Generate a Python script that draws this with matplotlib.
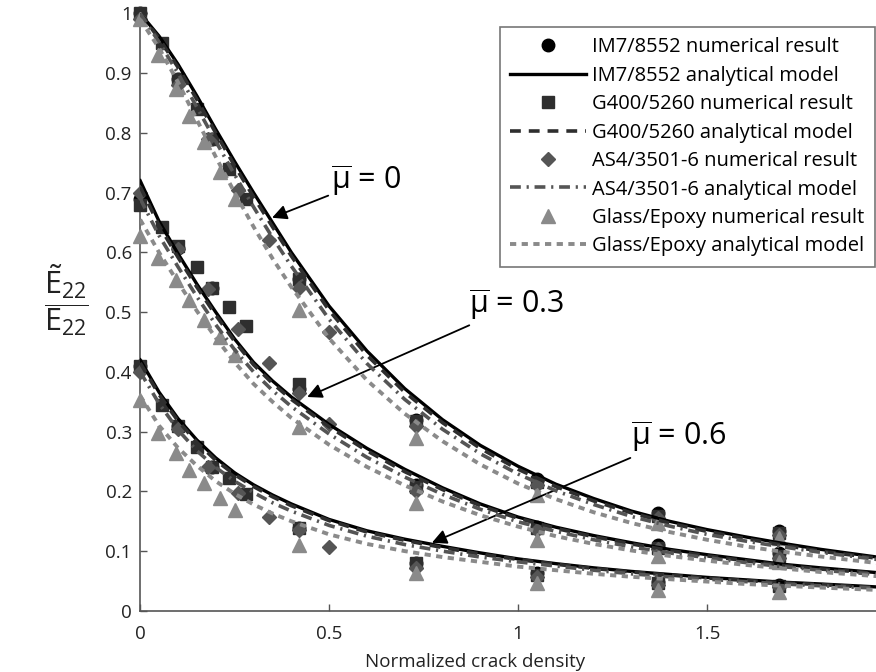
import numpy as np
import matplotlib
matplotlib.use("Agg")
import matplotlib.pyplot as plt

plt.rcParams['font.family'] = ['Open Sans', 'DejaVu Sans']
plt.rcParams['mathtext.fontset'] = 'custom'
plt.rcParams['mathtext.rm'] = 'Open Sans'
plt.rcParams['mathtext.it'] = 'Open Sans'

# analytical model curves
xa = [0, 0.05, 0.1, 0.15, 0.2, 0.25, 0.3, 0.35, 0.4, 0.5, 0.6, 0.7, 0.8, 0.9,
      1.0, 1.1, 1.2, 1.3, 1.4, 1.5, 1.6, 1.7, 1.8, 1.95]

im7_mu0 = [1.0, 0.962, 0.915, 0.862, 0.806, 0.752, 0.70, 0.65, 0.60, 0.51, 0.435, 0.372,
           0.32, 0.277, 0.242, 0.212, 0.188, 0.167, 0.15, 0.136, 0.124, 0.113, 0.103, 0.09]
im7_mu3 = [0.72, 0.652, 0.598, 0.547, 0.50, 0.455, 0.416, 0.385, 0.358, 0.312, 0.272, 0.237,
           0.206, 0.179, 0.157, 0.14, 0.126, 0.114, 0.103, 0.094, 0.086, 0.078, 0.072, 0.064]
im7_mu6 = [0.42, 0.366, 0.322, 0.286, 0.256, 0.231, 0.211, 0.194, 0.179, 0.153, 0.134, 0.12,
           0.108, 0.097, 0.087, 0.079, 0.072, 0.066, 0.061, 0.056, 0.052, 0.048, 0.045, 0.04]

g400_mu0 = [1.0, 0.958, 0.91, 0.856, 0.80, 0.745, 0.693, 0.643, 0.594, 0.503, 0.428, 0.366,
            0.315, 0.272, 0.237, 0.208, 0.184, 0.164, 0.147, 0.133, 0.121, 0.11, 0.1, 0.088]
g400_mu3 = [0.71, 0.645, 0.592, 0.542, 0.495, 0.451, 0.412, 0.381, 0.354, 0.308, 0.268, 0.233,
            0.203, 0.176, 0.155, 0.138, 0.124, 0.112, 0.101, 0.092, 0.084, 0.076, 0.07, 0.063]
g400_mu6 = [0.415, 0.362, 0.318, 0.282, 0.252, 0.228, 0.208, 0.191, 0.176, 0.151, 0.132, 0.118,
            0.106, 0.095, 0.086, 0.078, 0.071, 0.065, 0.06, 0.055, 0.051, 0.047, 0.044, 0.039]

as4_mu0 = [1.0, 0.952, 0.9, 0.843, 0.786, 0.73, 0.676, 0.625, 0.577, 0.488, 0.414, 0.354,
           0.304, 0.263, 0.229, 0.201, 0.178, 0.158, 0.142, 0.128, 0.117, 0.107, 0.098, 0.086]
as4_mu3 = [0.69, 0.628, 0.576, 0.526, 0.479, 0.437, 0.4, 0.369, 0.342, 0.296, 0.257, 0.224,
           0.195, 0.17, 0.149, 0.133, 0.119, 0.107, 0.097, 0.089, 0.081, 0.074, 0.068, 0.061]
as4_mu6 = [0.4, 0.347, 0.303, 0.268, 0.24, 0.217, 0.198, 0.181, 0.167, 0.143, 0.125, 0.111,
           0.1, 0.09, 0.082, 0.075, 0.068, 0.062, 0.057, 0.053, 0.049, 0.045, 0.042, 0.038]

glass_mu0 = [0.99, 0.942, 0.885, 0.822, 0.76, 0.70, 0.643, 0.59, 0.542, 0.456, 0.386, 0.33,
             0.284, 0.245, 0.213, 0.187, 0.165, 0.147, 0.132, 0.119, 0.108, 0.099, 0.091, 0.08]
glass_mu3 = [0.655, 0.6, 0.55, 0.502, 0.457, 0.416, 0.38, 0.35, 0.323, 0.278, 0.241, 0.21,
             0.183, 0.16, 0.141, 0.125, 0.112, 0.101, 0.092, 0.084, 0.077, 0.071, 0.065, 0.058]
glass_mu6 = [0.36, 0.31, 0.273, 0.243, 0.217, 0.196, 0.178, 0.163, 0.15, 0.128, 0.112, 0.1,
             0.09, 0.082, 0.074, 0.068, 0.062, 0.057, 0.053, 0.049, 0.045, 0.042, 0.039, 0.035]

# numerical results
x_im7 = [0, 0.1, 0.19, 0.42, 0.73, 1.05, 1.37, 1.69]
im7_num = [[1.0, 0.89, 0.79, 0.555, 0.32, 0.22, 0.164, 0.133],
           [0.69, 0.607, 0.541, 0.372, 0.21, 0.141, 0.111, 0.097],
           [0.41, 0.31, 0.241, 0.139, 0.08, 0.063, 0.049, 0.044]]

x_g400 = [0, 0.057, 0.1, 0.15, 0.19, 0.235, 0.28, 0.42, 0.73, 1.05, 1.37, 1.69]
g400_num = [[1.0, 0.95, 0.89, 0.84, 0.79, 0.74, 0.69, 0.555, 0.318, 0.216, 0.158, 0.13],
            [0.68, 0.643, 0.61, 0.575, 0.541, 0.508, 0.476, 0.379, 0.208, 0.138, 0.106, 0.092],
            [0.41, 0.345, 0.31, 0.275, 0.241, 0.222, 0.195, 0.139, 0.08, 0.06, 0.046, 0.042]]

x_as4 = [0, 0.1, 0.18, 0.26, 0.34, 0.42, 0.5, 0.73, 1.05, 1.37, 1.69]
as4_num = [[0.99, 0.88, 0.79, 0.705, 0.62, 0.54, 0.467, 0.31, 0.21, 0.155, 0.127],
           [0.70, 0.605, 0.538, 0.471, 0.415, 0.365, 0.312, 0.20, 0.135, 0.103, 0.088],
           [0.40, 0.305, 0.24, 0.198, 0.157, 0.135, 0.107, 0.072, 0.056, 0.044, 0.04]]

x_glass = [0, 0.047, 0.096, 0.13, 0.17, 0.21, 0.25, 0.42, 0.73, 1.05, 1.37, 1.69]
glass_num = [[0.99, 0.93, 0.873, 0.828, 0.784, 0.734, 0.69, 0.504, 0.29, 0.194, 0.147, 0.122],
             [0.627, 0.591, 0.554, 0.521, 0.487, 0.459, 0.429, 0.308, 0.18, 0.119, 0.091, 0.082],
             [0.353, 0.298, 0.265, 0.236, 0.214, 0.189, 0.169, 0.111, 0.063, 0.047, 0.035, 0.032]]

labels = ["IM7/8552", "G400/5260", "AS4/3501-6", "Glass/Epoxy"]

fig = plt.figure(figsize=(8.76, 6.72), dpi=100)
ax = fig.add_axes([0.16, 0.091, 0.84, 0.889])

series = [
    (x_im7, im7_num, [im7_mu0, im7_mu3, im7_mu6], 'o', '#000000', '-', 2.4),
    (x_g400, g400_num, [g400_mu0, g400_mu3, g400_mu6], 's', '#2e2e2e', (0, (3.0, 2.2)), 2.6),
    (x_as4, as4_num, [as4_mu0, as4_mu3, as4_mu6], 'D', '#555555', (0, (3.0, 1.6, 0.6, 1.6)), 2.6),
    (x_glass, glass_num, [glass_mu0, glass_mu3, glass_mu6], '^', '#8a8a8a', (0, (1.6, 1.4)), 2.8),
]
msize = {'o': 9, 's': 8.5, 'D': 7.5, '^': 9.5}

for i, (xn, yn, ya, mk, col, ls, lw) in enumerate(series):
    for k in range(3):
        ax.plot(xn, yn[k], linestyle='none', marker=mk, ms=msize[mk], color=col,
                mec=col, clip_on=False, zorder=3,
                label=labels[i] + " numerical result" if k == 0 else None)
        ax.plot(xa, ya[k], linestyle=ls, color=col, lw=lw, zorder=4,
                label=labels[i] + " analytical model" if k == 0 else None)

# annotations
arrow = dict(arrowstyle='-|>', color='black', lw=1.3, mutation_scale=22, shrinkA=0, shrinkB=0)
ax.annotate(r'$\overline{\mathrm{\mu}}$ = 0', xy=(0.349, 0.658), xytext=(0.505, 0.72),
            fontsize=22, va='center', ha='left', arrowprops=arrow)
ax.annotate(r'$\overline{\mathrm{\mu}}$ = 0.3', xy=(0.442, 0.358), xytext=(0.87, 0.513),
            fontsize=22, va='center', ha='left', arrowprops=arrow)
ax.annotate(r'$\overline{\mathrm{\mu}}$ = 0.6', xy=(0.772, 0.114), xytext=(1.30, 0.291),
            fontsize=22, va='center', ha='left', arrowprops=arrow)

ax.set_xlim(0, 1.947)
ax.set_ylim(0, 1)
ax.set_xticks([0, 0.5, 1, 1.5])
ax.set_xticklabels(['0', '0.5', '1', '1.5'])
ax.set_yticks(np.arange(0, 1.01, 0.1))
ax.set_yticklabels(['0', '0.1', '0.2', '0.3', '0.4', '0.5', '0.6', '0.7', '0.8', '0.9', '1'])
ax.tick_params(direction='in', length=5, width=1, colors='#555555', labelcolor='#222222',
               labelsize=13.5, pad=6)
ax.tick_params(axis='x', pad=10)
for s in ['top', 'right']:
    ax.spines[s].set_visible(False)
for s in ['left', 'bottom']:
    ax.spines[s].set_color('#555555')
    ax.spines[s].set_linewidth(1.2)

ax.set_xlabel('Normalized crack density', fontsize=13.5, color='#222222')
ax.xaxis.set_label_coords(0.455, -0.07)
ax.set_ylabel(r'$\dfrac{\tilde{\mathrm{E}}_{22}}{\mathrm{E}_{22}}$', fontsize=22, rotation=0,
              va='center', ha='center', color='#222222')
ax.yaxis.set_label_coords(-0.1, 0.52)

leg = ax.legend(loc='upper right', bbox_to_anchor=(0.998, 0.977), fontsize=14.5, handlelength=3.8,
                handletextpad=0.3, labelspacing=0.42, borderpad=0.5, fancybox=False,
                framealpha=1, edgecolor='#777777', borderaxespad=0)
leg.get_frame().set_linewidth(1.2)

fig.savefig('out.png', dpi=100)
